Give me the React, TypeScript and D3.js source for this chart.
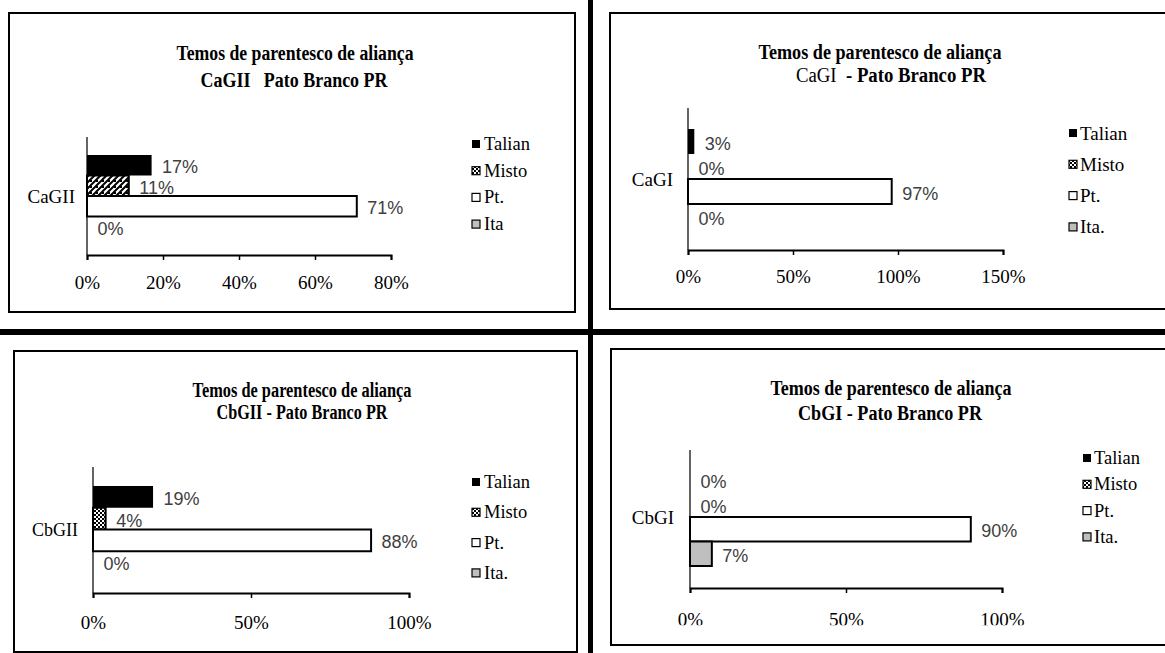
import React, { useEffect, useRef } from "react";
import * as d3 from "d3";

// Series shown in every panel (top to bottom inside the group)
const SERIES = ["Talian", "Misto", "Pt.", "Ita."];
const LEGEND_CAGII = ["Talian", "Misto", "Pt.", "Ita"];
const LEGEND_DEFAULT = ["Talian", "Misto", "Pt.", "Ita."];

// Percentages per group
const VALUES_CAGII = [17, 11, 71, 0];
const VALUES_CAGI = [3, 0, 97, 0];
const VALUES_CBGII = [19, 4, 88, 0];
const VALUES_CBGI = [0, 0, 90, 7];

// Axis tick values (%)
const TICKS_CAGII = [0, 20, 40, 60, 80];
const TICKS_CAGI = [0, 50, 100, 150];
const TICKS_CBGII = [0, 50, 100];
const TICKS_CBGI = [0, 50, 100];

const TITLE_LINE1 = "Temos de parentesco de aliança";
const SUBTITLE_CAGII = [{ text: "CaGII   Pato Branco PR", bold: true }];
const SUBTITLE_CAGI = [
  { text: "CaGI", bold: false },
  { text: "  - Pato Branco PR", bold: true },
];
const SUBTITLE_CBGII = [{ text: "CbGII - Pato Branco PR", bold: true }];
const SUBTITLE_CBGI = [{ text: "CbGI - Pato Branco PR", bold: true }];

const SERIF = "'Liberation Serif', 'Times New Roman', serif";
const SANS = "'Liberation Sans Narrow', 'Liberation Sans', Arial, sans-serif";

type Layout = {
  frame: [number, number, number, number];
  x0: number;
  x1: number;
  yTop: number;
  yBottom: number;
  bars: [number, number];
  tickLabelOffset: number;
  tickClip?: number;
  catEnd: number;
  catSize: number;
  title: { cx1: number; cx2: number; y1: number; y2: number; w1: number; w2: number };
  legend: { sq: number; tx: number; y0: number; step: number; size: number };
  misto: string;
};

const PANELS: {
  id: string;
  category: string;
  values: number[];
  ticks: number[];
  legend: string[];
  subtitle: { text: string; bold: boolean }[];
  layout: Layout;
}[] = [
  {
    id: "cagii",
    category: "CaGII",
    values: VALUES_CAGII,
    ticks: TICKS_CAGII,
    legend: LEGEND_CAGII,
    subtitle: SUBTITLE_CAGII,
    layout: {
      frame: [9, 13, 575, 312],
      x0: 87,
      x1: 391,
      yTop: 137,
      yBottom: 255,
      bars: [155, 237],
      tickLabelOffset: 27,
      catEnd: 75,
      catSize: 19,
      title: { cx1: 295, cx2: 294, y1: 53, y2: 80, w1: 237, w2: 187 },
      legend: { sq: 472, tx: 484, y0: 144, step: 26.7, size: 18.5 },
      misto: "diag",
    },
  },
  {
    id: "cagi",
    category: "CaGI",
    values: VALUES_CAGI,
    ticks: TICKS_CAGI,
    legend: LEGEND_DEFAULT,
    subtitle: SUBTITLE_CAGI,
    layout: {
      frame: [610, 13, 1175, 309],
      x0: 688,
      x1: 1003,
      yTop: 108,
      yBottom: 250,
      bars: [129, 229],
      tickLabelOffset: 26,
      catEnd: 673,
      catSize: 19,
      title: { cx1: 880, cx2: 891, y1: 52, y2: 75, w1: 243, w2: 190 },
      legend: { sq: 1069, tx: 1080, y0: 133, step: 31.3, size: 19 },
      misto: "checker",
    },
  },
  {
    id: "cbgii",
    category: "CbGII",
    values: VALUES_CBGII,
    ticks: TICKS_CBGII,
    legend: LEGEND_DEFAULT,
    subtitle: SUBTITLE_CBGII,
    layout: {
      frame: [14, 351, 577, 652],
      x0: 93,
      x1: 409,
      yTop: 467,
      yBottom: 593,
      bars: [486, 573],
      tickLabelOffset: 29,
      catEnd: 78,
      catSize: 18,
      title: { cx1: 302, cx2: 302, y1: 390, y2: 412, w1: 219, w2: 171 },
      legend: { sq: 472, tx: 484, y0: 482, step: 30.3, size: 18.5 },
      misto: "checker",
    },
  },
  {
    id: "cbgi",
    category: "CbGI",
    values: VALUES_CBGI,
    ticks: TICKS_CBGI,
    legend: LEGEND_DEFAULT,
    subtitle: SUBTITLE_CBGI,
    layout: {
      frame: [611, 349, 1175, 645],
      x0: 690,
      x1: 1002,
      yTop: 450,
      yBottom: 588,
      bars: [468, 566],
      tickLabelOffset: 31,
      tickClip: 625.3,
      catEnd: 674,
      catSize: 19,
      title: { cx1: 891, cx2: 890, y1: 388, y2: 413, w1: 241, w2: 184 },
      legend: { sq: 1083, tx: 1094, y0: 458, step: 26.3, size: 18.5 },
      misto: "checker",
    },
  },
];

function seriesFill(i: number, misto: string) {
  if (i === 0) return "#000";
  if (i === 1) return `url(#${misto})`;
  if (i === 2) return "#fff";
  return "#bfbfbf";
}

function Panel({ panel }: { panel: (typeof PANELS)[number] }) {
  const L = panel.layout;
  const axisRef = useRef<SVGGElement>(null);
  const maxTick = panel.ticks[panel.ticks.length - 1];
  const x = d3.scaleLinear().domain([0, maxTick]).range([L.x0, L.x1]);
  const y = d3.scaleBand<string>().domain(SERIES).range(L.bars).padding(0);
  const groupCenter = (L.bars[0] + L.bars[1]) / 2;

  useEffect(() => {
    if (!axisRef.current) return;
    const g = d3.select(axisRef.current);
    g.selectAll("*").remove();
    g.call(
      d3
        .axisBottom(x)
        .tickValues(panel.ticks)
        .tickFormat((d) => `${d}%`)
        .tickSize(5)
        .tickSizeOuter(5)
    );
    g.attr("font-family", SERIF).attr("font-size", 19);
    g.select(".domain").attr("stroke", "#000").attr("stroke-width", 2);
    g.selectAll(".tick line").attr("stroke", "#000").attr("stroke-width", 1.5);
    g.selectAll(".tick text")
      .attr("fill", "#000")
      .attr("y", L.tickLabelOffset)
      .attr("dy", null)
      .attr("dominant-baseline", "central");
  }, []);

  const [fx0, fy0, fx1, fy1] = L.frame;

  return (
    <g>
      <rect
        x={fx0}
        y={fy0}
        width={fx1 - fx0}
        height={fy1 - fy0}
        fill="#fff"
        stroke="#000"
        strokeWidth={2}
      />
      {/* title */}
      <text
        x={L.title.cx1}
        y={L.title.y1}
        textAnchor="middle"
        dominantBaseline="central"
        style={{ fontFamily: SERIF }}
        fontWeight="bold"
        fontSize={20}
        textLength={L.title.w1}
        lengthAdjust="spacingAndGlyphs"
        fill="#000"
      >
        {TITLE_LINE1}
      </text>
      <text
        x={L.title.cx2}
        y={L.title.y2}
        textAnchor="middle"
        dominantBaseline="central"
        style={{ fontFamily: SERIF, whiteSpace: "pre" }}
        fontSize={20}
        textLength={L.title.w2}
        lengthAdjust="spacingAndGlyphs"
        fill="#000"
      >
        {panel.subtitle.map((s, i) => (
          <tspan key={i} fontWeight={s.bold ? "bold" : "normal"}>
            {s.text}
          </tspan>
        ))}
      </text>

      {/* category label */}
      <text
        x={L.catEnd}
        y={groupCenter}
        textAnchor="end"
        dominantBaseline="central"
        style={{ fontFamily: SERIF }}
        fontSize={L.catSize}
        fill="#000"
      >
        {panel.category}
      </text>

      {/* y axis line */}
      <line x1={L.x0} x2={L.x0} y1={L.yTop} y2={L.yBottom} stroke="#111" strokeWidth={1.3} />

      {/* value labels */}
      {panel.values.map((v, i) => (
        <text
          key={`l${i}`}
          x={x(v) + 10.5}
          y={(y(SERIES[i]) as number) + y.bandwidth() / 2 + 2}
          dominantBaseline="central"
          style={{ fontFamily: SANS }}
          fontSize={18}
          fill="#404040"
        >
          {`${v}%`}
        </text>
      ))}

      {/* bars */}
      {panel.values.map((v, i) =>
        v > 0 ? (
          <rect
            key={`b${i}`}
            x={x(0)}
            y={y(SERIES[i]) as number}
            width={x(v) - x(0)}
            height={y.bandwidth()}
            fill={seriesFill(i, L.misto)}
            stroke="#000"
            strokeWidth={i === 0 ? 0 : 2}
          />
        ) : null
      )}

      {/* x axis */}
      <g
        ref={axisRef}
        transform={`translate(0,${L.yBottom})`}
        clipPath={L.tickClip ? `url(#clip-${panel.id})` : undefined}
      />
      {L.tickClip ? (
        <clipPath id={`clip-${panel.id}`} clipPathUnits="userSpaceOnUse">
          <rect x={L.x0 - 60} y={-L.yBottom} width={L.x1 - L.x0 + 120} height={L.tickClip} />
        </clipPath>
      ) : null}

      {/* legend */}
      {panel.legend.map((name, i) => {
        const ly = L.legend.y0 + i * L.legend.step;
        return (
          <g key={`g${i}`}>
            <rect
              x={L.legend.sq}
              y={ly - 4}
              width={8}
              height={8}
              fill={seriesFill(i, "checker")}
              stroke="#000"
              strokeWidth={i === 0 ? 0 : 1.2}
            />
            <text
              x={L.legend.tx}
              y={ly}
              dominantBaseline="central"
              style={{ fontFamily: SERIF }}
              fontSize={L.legend.size}
              fill="#000"
            >
              {name}
            </text>
          </g>
        );
      })}
    </g>
  );
}

export default function App() {
  return (
    <svg
      width={1165}
      height={653}
      style={{ position: "absolute", left: 0, top: 0, background: "#fff" }}
    >
      <defs>
        <pattern id="checker" width={4} height={4} patternUnits="userSpaceOnUse">
          <rect width={4} height={4} fill="#fff" />
          <rect width={2} height={2} fill="#000" />
          <rect x={2} y={2} width={2} height={2} fill="#000" />
        </pattern>
        <pattern id="diag" width={6} height={6} patternUnits="userSpaceOnUse">
          <rect width={6} height={6} fill="#fff" />
          <path d="M0,6 L6,0 M-1.5,1.5 L1.5,-1.5 M4.5,7.5 L7.5,4.5" stroke="#000" strokeWidth={2} />
          <rect x={0} y={0} width={2} height={2} fill="#000" />
        </pattern>
      </defs>
      <rect width={1165} height={653} fill="#fff" />
      {PANELS.map((p) => (
        <Panel key={p.id} panel={p} />
      ))}
      {/* dividing bars between the four charts */}
      <rect x={588} y={0} width={5} height={653} fill="#000" />
      <rect x={0} y={329} width={1165} height={6} fill="#000" />
    </svg>
  );
}
